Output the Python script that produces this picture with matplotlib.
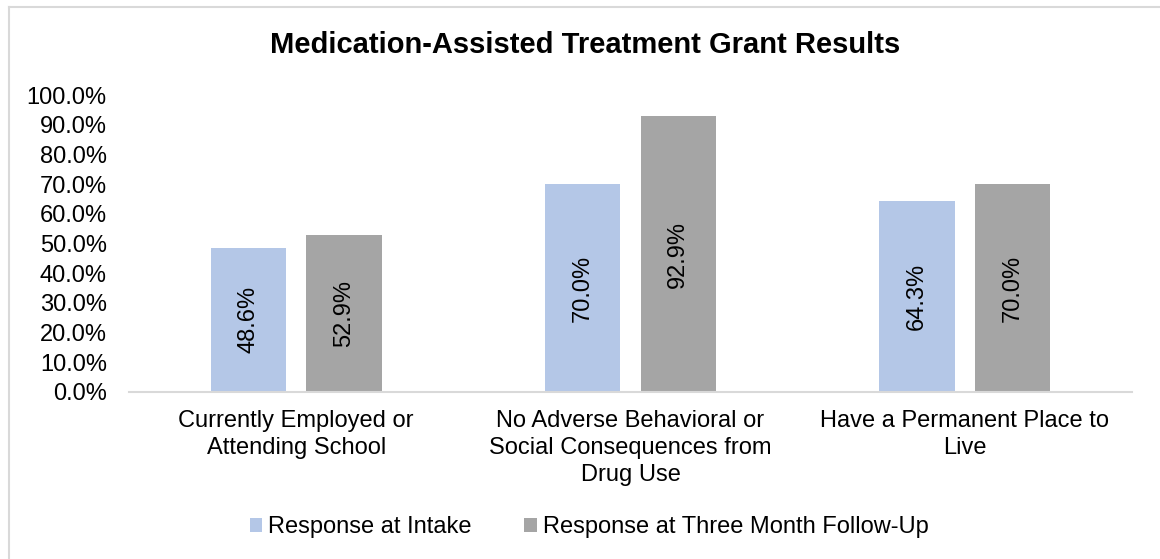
import matplotlib.pyplot as plt
from matplotlib.lines import Line2D
import numpy as np

# chart data
categories = ['Currently Employed or\nAttending School',
              'No Adverse Behavioral or\nSocial Consequences from\nDrug Use',
              'Have a Permanent Place to\nLive']
intake = [48.6, 70.0, 64.3]
followup = [52.9, 92.9, 70.0]
series_names = ['Response at Intake', 'Response at Three Month Follow-Up']
yticks = np.arange(0, 101, 10)

plt.rcParams['font.family'] = ['Liberation Sans', 'DejaVu Sans']
fs = 17

fig = plt.figure(figsize=(11.6, 5.59), dpi=100)
ax = fig.add_axes([129 / 1160, 1 - 392 / 559, (1132 - 129) / 1160, (392 - 95) / 559])

x = np.arange(len(categories))
w = 0.225
off = 0.143
b1 = ax.bar(x - off, intake, w, color='#b4c7e7', label=series_names[0])
b2 = ax.bar(x + off, followup, w, color='#a5a5a5', label=series_names[1])

# value labels inside bars
for bars, vals in ((b1, intake), (b2, followup)):
    for bar, v in zip(bars, vals):
        ax.text(bar.get_x() + bar.get_width() / 2, v / 2, f'{v:.1f}%',
                rotation=90, ha='center', va='center', fontsize=fs)

ax.set_xlim(-0.5, 2.5)
ax.set_ylim(0, 100)
ax.set_yticks(yticks)
ax.set_yticklabels([f'{t:.1f}%' for t in yticks])
ax.set_xticks(x)
ax.set_xticklabels(categories, linespacing=1.3)
ax.tick_params(axis='y', length=0, labelsize=fs, pad=16)
ax.tick_params(axis='x', length=0, labelsize=fs, pad=13)

for s in ['top', 'right', 'left']:
    ax.spines[s].set_visible(False)
ax.spines['bottom'].set_color('#d9d9d9')
ax.spines['bottom'].set_linewidth(1.5)

fig.text(585 / 1160, 1 - 45 / 559, 'Medication-Assisted Treatment Grant Results',
         ha='center', va='center', fontsize=21, fontweight='bold')

fig.legend(handles=[b1, b2], loc='center', bbox_to_anchor=(589 / 1160, 1 - 527 / 559),
           ncol=2, frameon=False, fontsize=fs, handlelength=0.55, handleheight=0.55,
           handletextpad=0.25, columnspacing=2.2, borderpad=0, borderaxespad=0)

# chart border (top and left edges visible)
fig.add_artist(Line2D([9 / 1160, 9 / 1160], [0, 1 - 7 / 559], color='#d9d9d9', lw=1.5))
fig.add_artist(Line2D([9 / 1160, 1], [1 - 7 / 559, 1 - 7 / 559], color='#d9d9d9', lw=1.5))

fig.savefig('out.png', dpi=100)
